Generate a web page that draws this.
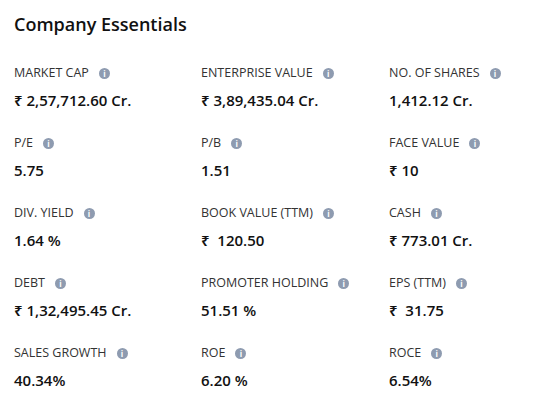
<!DOCTYPE html>
<html>
<head>
<meta charset="utf-8">
<script src="https://cdn.jsdelivr.net/npm/chart.js@4"></script>
<style>
  body { margin: 0; background: #fff; font-family: "Open Sans", "Noto Sans", sans-serif; color: #111; }
  #wrap { position: relative; width: 533px; height: 410px; }
  h1 { position: absolute; left: 14px; top: 12px; margin: 0; font-size: 18px; font-weight: 600; }
  .cell { position: absolute; width: 180px; }
  .lbl { font-size: 12.5px; color: #333; white-space: nowrap; line-height: 16px; }
  .val { font-size: 15px; font-weight: 600; color: #111; margin-top: 10px; white-space: pre; line-height: 18px; }
  .ic { display: inline-block; width: 11px; height: 11px; border-radius: 50%; background: #8e9bb0; color: #fff;
        font-size: 8px; font-weight: 700; text-align: center; line-height: 11px; margin-left: 10px; vertical-align: 0px; }
</style>
</head>
<body>
<div id="wrap">
  <h1>Company Essentials</h1>
</div>
<script>
// company essentials grid
var labels = ["MARKET CAP", "ENTERPRISE VALUE", "NO. OF SHARES",
              "P/E", "P/B", "FACE VALUE",
              "DIV. YIELD", "BOOK VALUE (TTM)", "CASH",
              "DEBT", "PROMOTER HOLDING", "EPS (TTM)",
              "SALES GROWTH", "ROE", "ROCE"];
var values = ["₹ 2,57,712.60 Cr.", "₹ 3,89,435.04 Cr.", "1,412.12 Cr.",
              "5.75", "1.51", "₹ 10",
              "1.64 %", "₹  120.50", "₹ 773.01 Cr.",
              "₹ 1,32,495.45 Cr.", "51.51 %", "₹  31.75",
              "40.34%", "6.20 %", "6.54%"];

var colX = [14, 201, 389];
var wrap = document.getElementById('wrap');
for (var i = 0; i < labels.length; i++) {
  var c = document.createElement('div');
  c.className = 'cell';
  c.style.left = colX[i % 3] + 'px';
  c.style.top = (65 + Math.floor(i / 3) * 70) + 'px';
  c.innerHTML = '<div class="lbl">' + labels[i] + '<span class="ic">i</span></div>' +
                '<div class="val">' + values[i] + '</div>';
  wrap.appendChild(c);
}
</script>
</body>
</html>
